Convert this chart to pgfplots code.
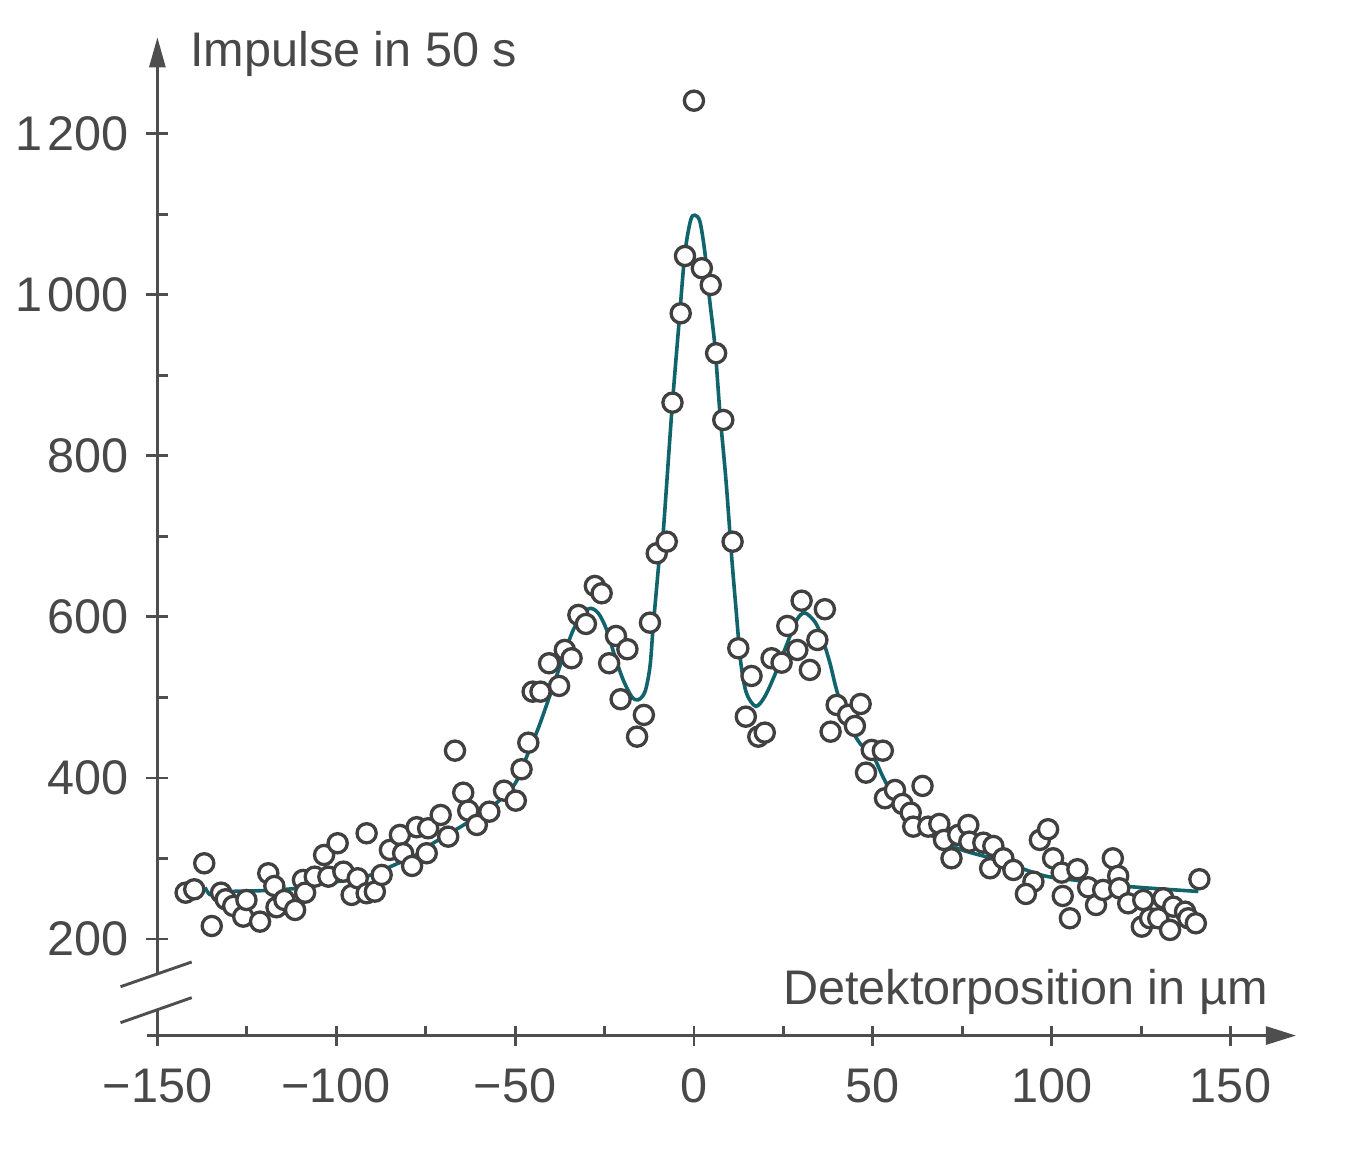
\documentclass[border=0pt]{standalone}
\usepackage{pgfplots}
\pgfplotsset{compat=1.18}
\usepackage{fontspec}
\setmainfont{Liberation Sans}
\usetikzlibrary{arrows.meta}
\definecolor{axiscol}{RGB}{78,78,78}
\definecolor{textcol}{RGB}{72,72,72}
\definecolor{markcol}{RGB}{64,64,64}
\definecolor{curvecol}{RGB}{18,100,108}
\begin{document}
\begin{tikzpicture}[font=\fontsize{24.3}{29}\selectfont]
\begin{axis}[
  x=1.7885pt, y=0.4025pt,
  xmin=-150, xmax=168.3, ymin=80, ymax=1320,
  axis line style={draw=none},
  tick style={draw=none},
  clip=false,
  xtick={-150,-100,-50,0,50,100,150},
  xticklabels={−150,−100,−50,0,50,100,150},
  ytick={200,400,600,800,1000,1200},
  yticklabels={200,400,600,800,1\hspace{0.1em}000,1\hspace{0.1em}200},
  ticklabel style={font=\fontsize{24.3}{29}\selectfont, text=textcol, inner sep=0pt},
  xticklabel style={anchor=north, yshift=-16.3pt},
  yticklabel style={anchor=east, xshift=-14.3pt},
]
% invisible frame giving the picture the reference's extent
\path (axis cs:-194.0,-64.6) rectangle (axis cs:187.6,1366.4);
% axes
\draw[axiscol, line width=1.45pt, -{Triangle[length=15pt,width=9pt]}] (axis cs:-152.8,80) -- (axis cs:168.3,80);
\draw[axiscol, line width=1.45pt] (axis cs:-150,80) -- (axis cs:-150,111.8);
\draw[axiscol, line width=1.45pt, -{Triangle[length=15pt,width=8pt]}] (axis cs:-150,158.1) -- (axis cs:-150,1320);
\draw[axiscol, line width=1.45pt] (axis cs:-160.3,96.0) -- (axis cs:-140.4,127.1);
\draw[axiscol, line width=1.45pt] (axis cs:-160.3,140.7) -- (axis cs:-140.4,171.4);
% ticks
\pgfplotsinvokeforeach{-150,-100,-50,0,50,100,150}{
  \draw[axiscol, line width=1.45pt] ([yshift=-5pt]axis cs:#1,80) -- ([yshift=5pt]axis cs:#1,80);
}
\pgfplotsinvokeforeach{-125,-75,-25,25,75,125}{
  \draw[axiscol, line width=1.45pt] (axis cs:#1,80) -- ([yshift=5pt]axis cs:#1,80);
}
\pgfplotsinvokeforeach{200,400,600,800,1000,1200}{
  \draw[axiscol, line width=1.45pt] ([xshift=-5.5pt]axis cs:-150,#1) -- ([xshift=5.5pt]axis cs:-150,#1);
}
\pgfplotsinvokeforeach{300,500,700,900,1100}{
  \draw[axiscol, line width=1.45pt] (axis cs:-150,#1) -- ([xshift=5.5pt]axis cs:-150,#1);
}
% labels
\node[anchor=base west, inner sep=0pt, text=textcol] at (axis cs:-140.9,1283.2) {Impulse in 50 s};
\node[anchor=base east, inner sep=0pt, text=textcol] at (axis cs:160.5,118) {Detektorposition in µm};
% fitted curve
\addplot[curvecol, line width=1.8pt, smooth, tension=0.5] coordinates {
(-136.7,264) (-135.3,255) (-133,256) (-129.2,259) (-120.9,260) (-110.6,263)
(-103.2,269) (-92,277) (-82.7,294) (-78.5,302) (-72.9,319) (-63.5,344)
(-55.2,369) (-50.0,393) (-46.8,426) (-43.5,462) (-40.7,497) (-36.5,551)
(-33.3,588) (-29.5,610) (-26.8,605) (-24.4,584) (-22.1,551) (-19.8,522)
(-17.4,501) (-15.6,497) (-13.7,507) (-12.3,538) (-11.4,588) (-10.4,638)
(-9.7,671) (-8.75,696) (-6.23,853) (-4.11,969) (-2.52,1052) (-0.92,1093)
(0.28,1099) (1.68,1091) (3.08,1052) (4.28,998) (5.87,936) (7.27,853)
(8.95,770) (10.54,675) (11.7,613) (13.1,543) (14.7,505) (17.3,489)
(19.8,501) (22.6,528) (25.7,563) (28.7,596) (31.0,605) (33.8,594)
(35.7,576) (38.0,543) (39.9,509) (42.7,472) (46.4,443) (50.1,427)
(53,400) (57.6,363) (64.1,335) (73.4,313) (81.8,302) (86.9,296)
(93.9,284) (99.5,277) (110.7,271) (121.9,265) (141,259)
};
% measured counts
\addplot[only marks, mark=*, mark size=4.8pt, mark options={fill=white, draw=markcol, line width=1.65pt}] coordinates {
(-142.1,257.5) (-139.7,261.7) (-136.9,294.0) (-134.8,216.1) (-132.2,257.5)
(-130.9,249.3) (-128.8,241.0) (-126.0,227.7) (-125.1,248.4) (-121.3,221.5)
(-119.0,281.6) (-117.3,265.8) (-116.7,239.4) (-114.5,248.4) (-111.5,236.0)
(-109.3,273.3) (-108.7,257.5) (-106.0,277.4) (-103.4,304.3) (-102.2,277.4)
(-99.6,318.9) (-98.0,283.6) (-95.7,254.7) (-94.0,275.4) (-91.5,331.3)
(-91.5,256.8) (-89.2,258.8) (-87.3,279.5) (-85.0,310.6) (-82.2,329.2)
(-81.3,306.5) (-78.8,290.7) (-77.5,338.8) (-74.3,337.5) (-74.7,306.5)
(-70.8,354.0) (-68.7,327.1) (-66.8,433.9) (-64.5,381.7) (-63.1,359.4)
(-60.7,341.6) (-57.2,358.1) (-53.1,384.2) (-49.8,371.8) (-48.2,410.8)
(-46.3,443.8) (-45.1,507.2) (-42.9,507.2) (-40.5,542.5) (-37.7,514.3)
(-36.1,559.0) (-34.2,548.7) (-32.3,602.5) (-30.2,591.3) (-27.7,638.5)
(-25.8,629.4) (-23.7,542.5) (-21.8,576.4) (-20.5,497.8) (-18.6,559.9)
(-15.9,451.3) (-14.0,478.3) (-12.3,592.9) (-10.4,679.1) (-7.6,693.5)
(-6.0,866.2) (-3.7,977.2) (-2.5,1048.4) (0.0,1241.3) (2.2,1033.2)
(4.7,1012.4) (6.2,927.6) (8.2,844.7) (10.8,693.5) (12.4,561.1)
(16.1,526.7) (14.5,476.1) (18.0,451.3) (19.8,456.3) (21.7,548.7)
(24.5,543.2) (26.1,588.8) (28.9,559.0) (30.1,620.2) (32.4,534.2)
(34.5,571.4) (36.6,609.6) (38.2,457.5) (39.9,490.7) (43.1,478.3)
(45.0,464.6) (46.6,491.9) (49.7,434.8) (52.8,433.9) (48.1,406.6)
(53.4,374.8) (56.2,385.1) (58.3,367.7) (60.6,356.9) (61.3,339.5)
(63.9,390.1) (65.5,339.5) (68.6,342.9) (69.9,323.0) (72.0,300.2)
(73.9,329.2) (76.7,341.6) (77.0,320.9) (80.9,319.6) (83.7,315.5)
(82.8,287.8) (86.5,300.2) (89.3,285.7) (96.7,323.0) (99.0,336.3)
(94.9,271.2) (92.8,255.9) (100.4,300.2) (102.8,282.4) (107.2,286.6)
(103.1,253.4) (105.1,225.7) (110.2,264.2) (112.4,242.2) (114.4,260.9)
(117.1,300.2) (118.6,278.3) (118.9,263.0) (121.4,244.3) (125.6,248.4)
(125.2,215.3) (127.5,225.7) (129.8,225.7) (131.2,250.6) (133.1,211.2)
(134.0,240.1) (137.3,233.9) (138.2,225.7) (140.3,219.5) (141.3,274.2)
};
\end{axis}
\end{tikzpicture}
\end{document}
